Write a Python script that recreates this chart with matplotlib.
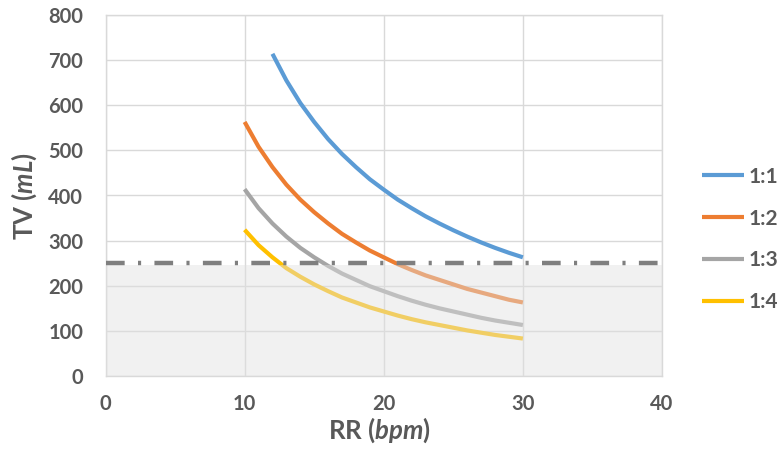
import matplotlib
matplotlib.use("Agg")
import matplotlib.pyplot as plt

plt.rcParams['font.family'] = ['Lato', 'DejaVu Sans']
plt.rcParams['mathtext.fontset'] = 'custom'
plt.rcParams['mathtext.rm'] = 'Lato:bold'
plt.rcParams['mathtext.bf'] = 'Lato:bold'
plt.rcParams['mathtext.it'] = 'Lato:italic:bold'
plt.rcParams['mathtext.bfit'] = 'Lato:italic:bold'

# ---- data ----
rr_11 = [12, 13, 14, 15, 16, 17, 18, 19, 20, 21, 22, 23, 24, 25, 26, 27, 28, 29, 30]
tv_11 = [714, 655, 605, 563, 525, 492, 463, 436, 413, 391, 372, 354, 338, 323, 309, 296, 284, 273, 263]

rr_other = [10, 11, 12, 13, 14, 15, 16, 17, 18, 19, 20, 21, 22, 23, 24, 25, 26, 27, 28, 29, 30]
tv_12 = [563, 508, 463, 424, 391, 363, 338, 315, 296, 278, 263, 248, 235, 223, 213, 203, 193, 185, 177, 169, 163]
tv_13 = [414, 372, 338, 309, 284, 263, 244, 227, 213, 199, 188, 177, 167, 158, 150, 143, 136, 129, 123, 118, 113]
tv_14 = [324, 290, 263, 239, 220, 203, 188, 174, 163, 152, 143, 134, 126, 119, 113, 107, 101, 96, 91, 87, 83]

labels = ['1:1', '1:2', '1:3', '1:4']
colors = ['#5B9BD5', '#ED7D31', '#A5A5A5', '#FFC000']
threshold = 250

x_ticks = [0, 10, 20, 30, 40]
y_ticks = [0, 100, 200, 300, 400, 500, 600, 700, 800]

TXT = '#595959'
GRID = '#D9D9D9'

W, H = 780, 461
fig = plt.figure(figsize=(W / 100, H / 100), dpi=100)
left, right, top, bottom = 105.5, 662, 15, 376
ax = fig.add_axes([left / W, 1 - bottom / H, (right - left) / W, (bottom - top) / H])

series = [(rr_11, tv_11), (rr_other, tv_12), (rr_other, tv_13), (rr_other, tv_14)]
handles = []
for (xs, ys), c, lab in zip(series, colors, labels):
    h, = ax.plot(xs, ys, color=c, lw=3.0, solid_capstyle='butt', zorder=2, label=lab)
    handles.append(h)

# shaded "unsafe" region over the curves
ax.axhspan(0, threshold - 4, facecolor='#E0E0E0', alpha=0.45, lw=0, zorder=3)
ax.axhline(threshold, color='#7F7F7F', lw=3.2, ls=(0, (4.2, 3.0, 0.7, 3.0)), zorder=4)

ax.set_xlim(0, 40)
ax.set_ylim(0, 800)
ax.set_xticks(x_ticks)
ax.set_yticks(y_ticks)
ax.grid(True, color=GRID, lw=1.0, zorder=0)
ax.set_axisbelow(True)
for s in ax.spines.values():
    s.set_color(GRID)
    s.set_linewidth(1.0)
ax.tick_params(length=0, labelsize=14.5, labelcolor=TXT)
ax.tick_params(axis='y', pad=16)
ax.tick_params(axis='x', pad=13)
for t in ax.get_xticklabels() + ax.get_yticklabels():
    t.set_fontweight('bold')

fig.text(379 / W, 1 - 430 / H, r'RR ($\mathbfit{bpm}$)', ha='center', va='center',
         fontsize=18.5, fontweight='bold', color=TXT)
fig.text(24 / W, 1 - 196.5 / H, r'TV ($\mathbfit{mL}$)', ha='center', va='center',
         rotation=90, fontsize=18.5, fontweight='bold', color=TXT)

leg = fig.legend(handles=handles, labels=labels, loc='center left',
                 bbox_to_anchor=(702 / W, 1 - 239.5 / H), frameon=False,
                 borderpad=0, borderaxespad=0, handlelength=2.0, handletextpad=0.22,
                 labelspacing=1.05, prop={'family': 'Lato', 'weight': 'bold', 'size': 15})
for t in leg.get_texts():
    t.set_color(TXT)

fig.savefig('out.png', dpi=100)
